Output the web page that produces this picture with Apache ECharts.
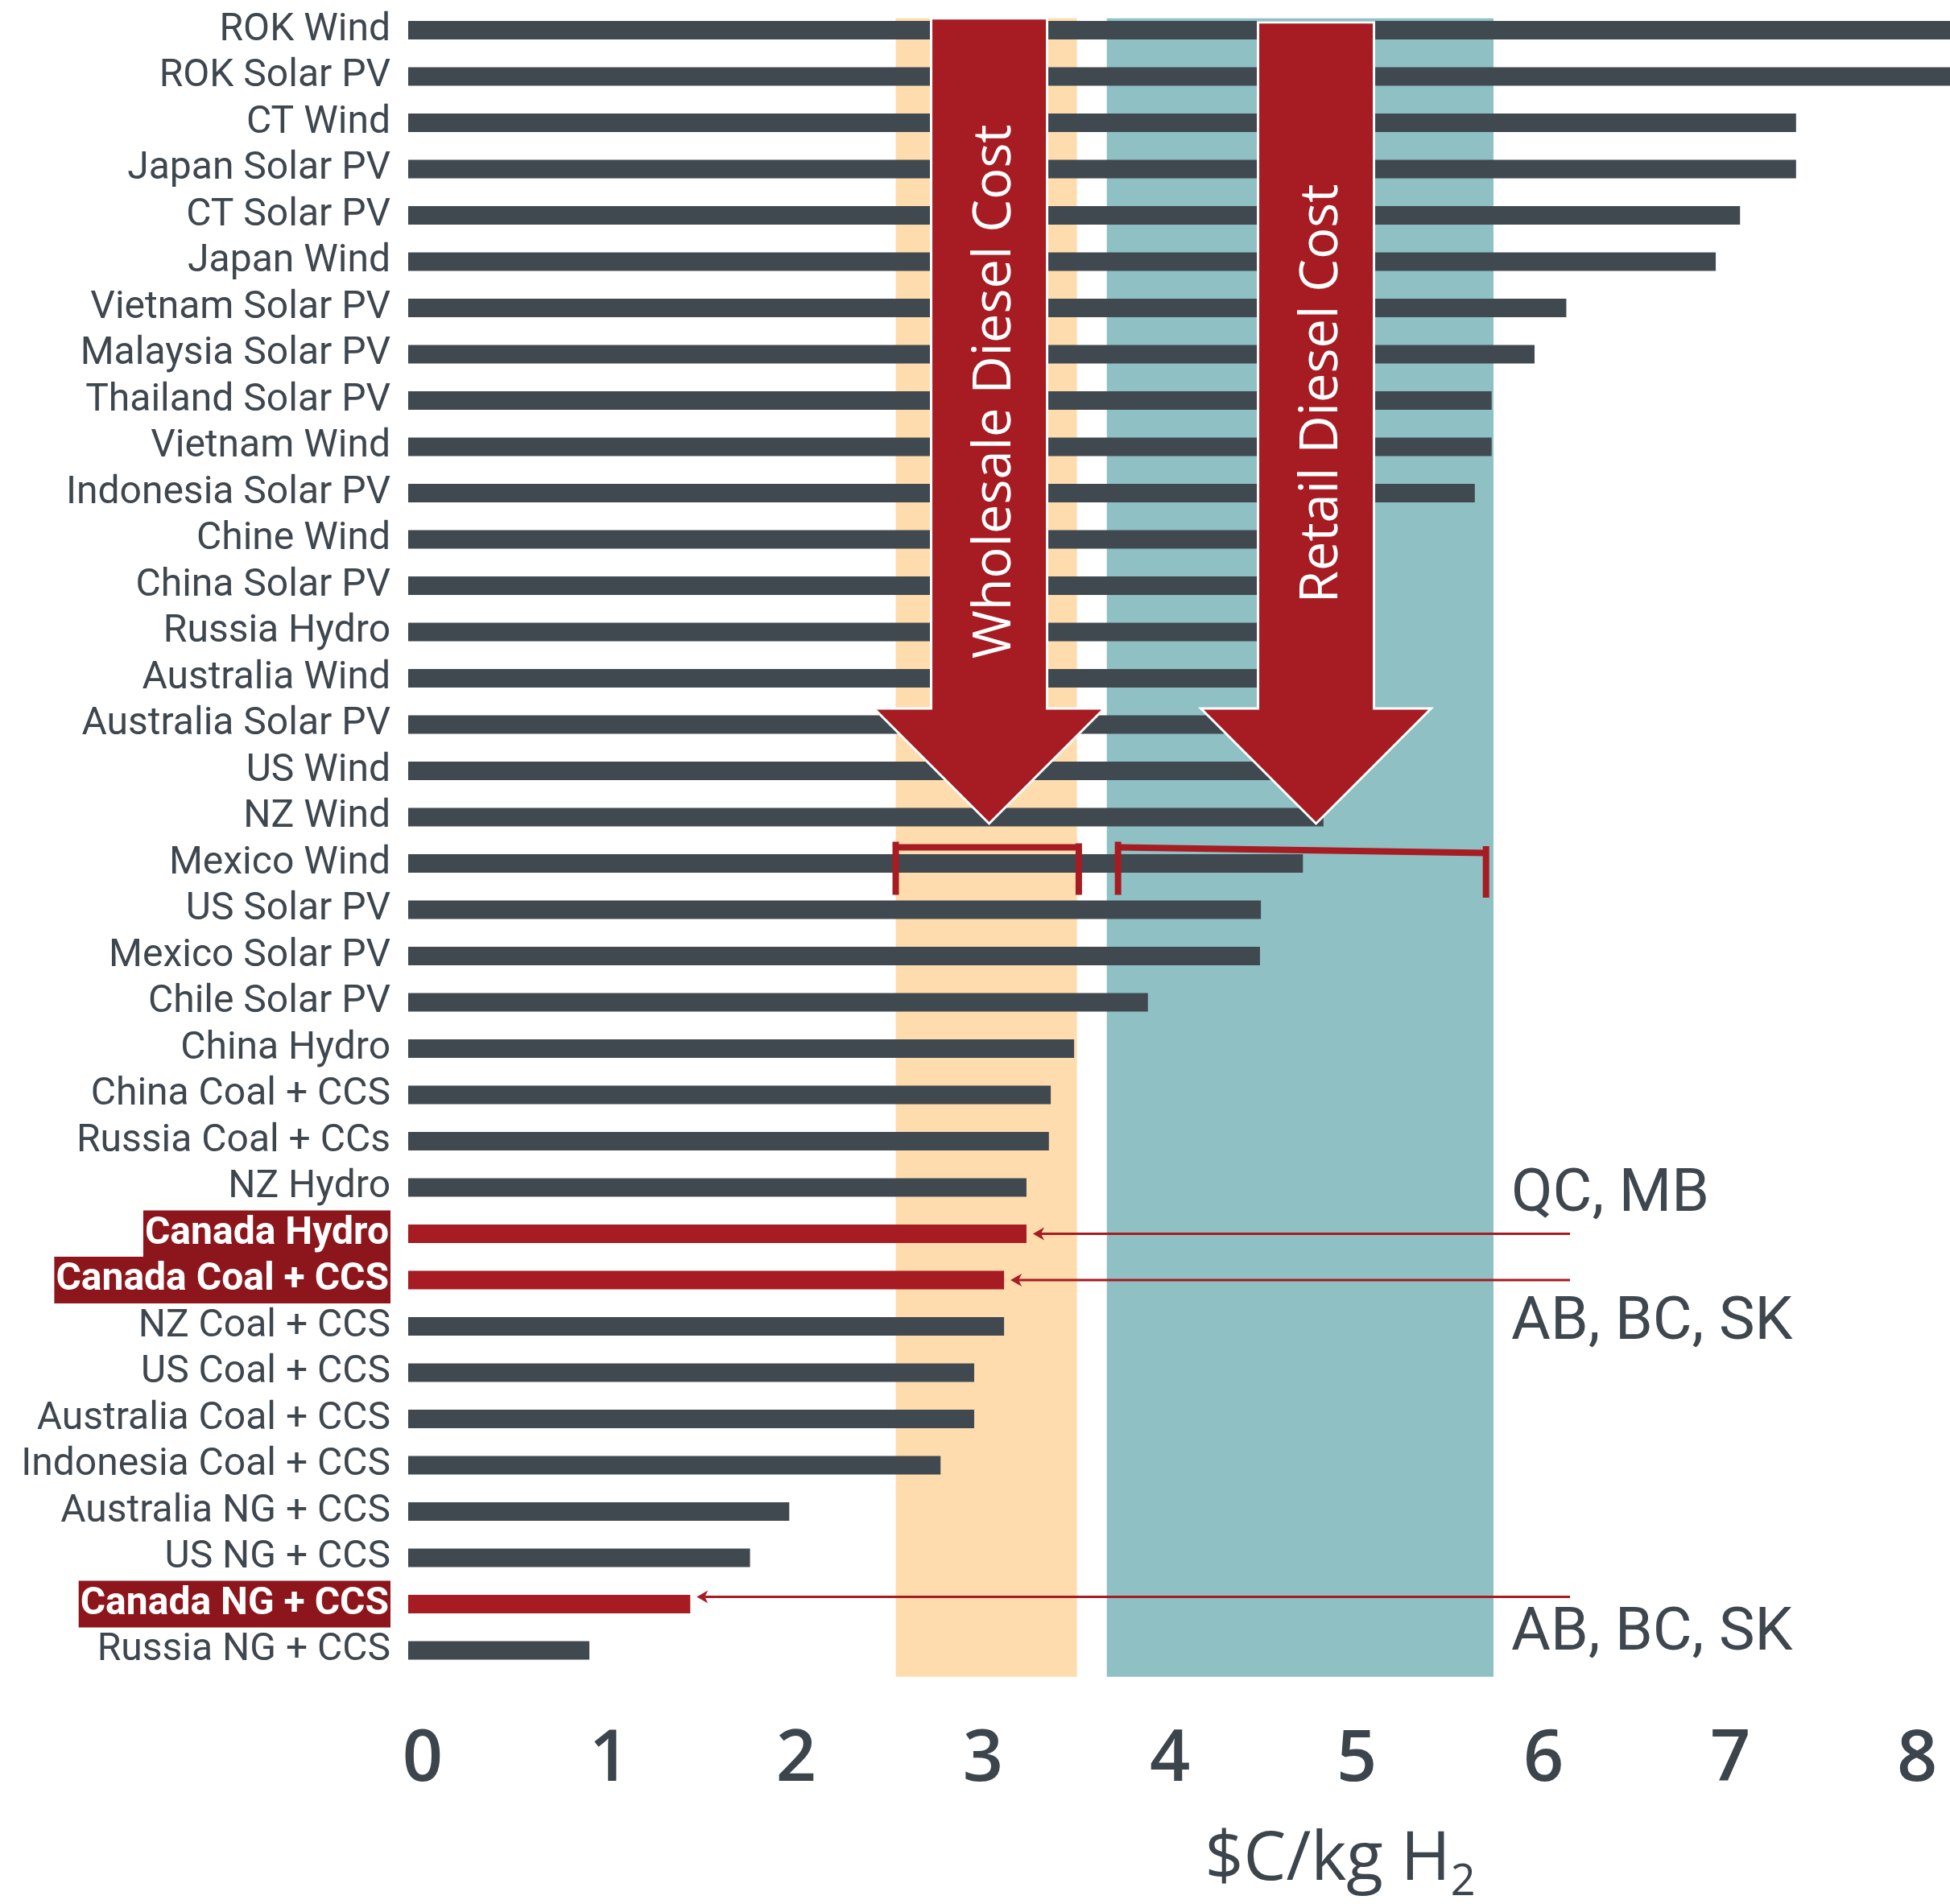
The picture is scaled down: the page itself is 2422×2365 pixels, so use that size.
<!DOCTYPE html>
<html>
<head>
<meta charset="utf-8">
<script src="https://cdn.jsdelivr.net/npm/echarts@6/dist/echarts.min.js"></script>
<style>
  html, body { margin: 0; padding: 0; background: #fff; }
  #chart { width: 2422px; height: 2365px; }
</style>
</head>
<body>
<div id="chart"></div>
<script>
// categories, top to bottom
const categories = [
  "ROK Wind", "ROK Solar PV", "CT Wind", "Japan Solar PV", "CT Solar PV", "Japan Wind",
  "Vietnam Solar PV", "Malaysia Solar PV", "Thailand Solar PV", "Vietnam Wind",
  "Indonesia Solar PV", "Chine Wind", "China Solar PV", "Russia Hydro", "Australia Wind",
  "Australia Solar PV", "US Wind", "NZ Wind", "Mexico Wind", "US Solar PV",
  "Mexico Solar PV", "Chile Solar PV", "China Hydro", "China Coal + CCS",
  "Russia Coal + CCs", "NZ Hydro", "Canada Hydro", "Canada Coal + CCS", "NZ Coal + CCS",
  "US Coal + CCS", "Australia Coal + CCS", "Indonesia Coal + CCS", "Australia NG + CCS",
  "US NG + CCS", "Canada NG + CCS", "Russia NG + CCS"
];

// hydrogen cost, $C/kg H2
const costs = [
  8.6, 8.5, 7.43, 7.43, 7.13, 7.0,
  6.2, 6.03, 5.8, 5.8,
  5.71, 5.15, 5.1, 5.05, 5.0,
  4.97, 4.93, 4.9, 4.79, 4.565,
  4.56, 3.96, 3.565, 3.44,
  3.43, 3.31, 3.31, 3.19, 3.19,
  3.03, 3.03, 2.85, 2.04,
  1.83, 1.51, 0.97
];

const highlighted = ["Canada Hydro", "Canada Coal + CCS", "Canada NG + CCS"];

// diesel cost ranges
const wholesaleRange = [2.61, 3.59];
const retailRange = [3.80, 5.77];
const wholesaleBand = [2.61, 3.58];
const retailBand = [3.74, 5.81];
const arrowNames = ["Wholesale Diesel Cost", "Retail Diesel Cost"];
const arrowTargets = [3.11, 4.86];

// province notes
const noteCategories = ["Canada Hydro", "Canada Coal + CCS", "Canada NG + CCS"];
const noteTexts = ["QC, MB", "AB, BC, SK", "AB, BC, SK"];
const noteLineEnd = 6.22;
const noteTextStart = 5.905;

const xTicks = [0, 1, 2, 3, 4, 5, 6, 7, 8];

// styling
const DARK = "#414950";
const RED = "#a61c22";
const TEXT = "#3e464e";
const noteTextDy = [-47, 54, 38];
const noteLineDy = [0, 0, -9];

const chart = echarts.init(document.getElementById("chart"));

const arrowIndex = categories.indexOf("NZ Wind");
const errIndex = categories.indexOf("Mexico Wind");

chart.setOption({
  animation: false,
  backgroundColor: "#fff",
  grid: { left: 507, right: 0, top: 8.75, bottom: 286.25, containLabel: false, outerBoundsMode: "none" },
  xAxis: {
    type: "value",
    min: xTicks[0],
    max: 8.254,
    interval: 1,
    splitLine: { show: false },
    axisLine: { show: false },
    axisTick: { show: false },
    axisLabel: {
      margin: 64,
      fontSize: 88,
      fontFamily: "Open Sans",
      fontWeight: 600,
      color: "#3c444c",
      lineHeight: 88,
      padding: [0, 0, 0, 36],
      formatter: (v) => (xTicks.includes(v) ? String(v) : "")
    },
    name: "$C/kg H{sub|2}",
    nameLocation: "middle",
    nameGap: 177,
    nameTextStyle: {
      fontSize: 84,
      fontFamily: "Open Sans",
      color: "#3c444c",
      lineHeight: 110,
      padding: [0, 0, 0, 400],
      rich: {
        sub: { fontSize: 54, fontFamily: "Open Sans", color: "#3c444c", lineHeight: 40, verticalAlign: "bottom" }
      }
    }
  },
  yAxis: {
    type: "category",
    data: categories,
    inverse: true,
    axisLine: { show: false },
    axisTick: { show: false },
    axisLabel: {
      margin: 22,
      formatter: (v) => (highlighted.includes(v) ? "{hl|" + v + "}" : "{n|" + v + "}"),
      rich: {
        n: { fontSize: 48, fontFamily: "Roboto", color: TEXT, lineHeight: 48 },
        hl: {
          fontSize: 48, fontFamily: "Roboto", fontWeight: "bold", color: "#fff",
          lineHeight: 48, backgroundColor: "#8c161b", padding: [5, 2, 5, 2]
        }
      }
    }
  },
  series: [
    {
      // shaded diesel bands
      type: "custom",
      z: 1,
      silent: true,
      encode: { x: [0, 1], y: 2 },
      data: [[wholesaleBand[0], wholesaleBand[1], 0], [retailBand[0], retailBand[1], 0]],
      renderItem: (params, api) => {
        const cs = params.coordSys;
        const x0 = api.coord([api.value(0), 0])[0];
        const x1 = api.coord([api.value(1), 0])[0];
        const fill = params.dataIndex === 0 ? "#fedcad" : "#8ec0c4";
        return {
          type: "rect",
          shape: { x: x0, y: cs.y + 14, width: x1 - x0, height: cs.height - 10 },
          style: { fill: fill }
        };
      }
    },
    {
      type: "bar",
      z: 2,
      data: costs,
      barWidth: 23,
      clip: true,
      itemStyle: {
        color: (p) => (highlighted.includes(p.name) ? RED : DARK)
      }
    },
    {
      // range bars for diesel costs
      type: "custom",
      z: 3,
      silent: true,
      encode: { x: [0, 1], y: 2 },
      data: [[wholesaleRange[0], wholesaleRange[1], errIndex], [retailRange[0], retailRange[1], errIndex]],
      renderItem: (params, api) => {
        const [x0, yc] = api.coord([api.value(0), api.value(2)]);
        const x1 = api.coord([api.value(1), api.value(2)])[0];
        const ly = yc - 20;
        const tilt = params.dataIndex === 1 ? 7 : 0;
        const st = { fill: RED };
        return {
          type: "group",
          children: [
            {
              type: "polygon",
              shape: { points: [[x0, ly - 4], [x1, ly - 4 + tilt], [x1, ly + 4 + tilt], [x0, ly + 4]] },
              style: st
            },
            { type: "rect", shape: { x: x0 - 4, y: ly - 7, width: 8, height: 66 }, style: st },
            { type: "rect", shape: { x: x1 - 4, y: ly - 5 + tilt / 2, width: 8, height: 64 }, style: st }
          ]
        };
      }
    },
    {
      // big arrows
      type: "custom",
      z: 4,
      silent: true,
      encode: { x: 0, y: 1 },
      data: arrowTargets.map((v, i) => [v, arrowIndex, i]),
      renderItem: (params, api) => {
        const i = params.dataIndex;
        const [tx, ty0] = api.coord([api.value(0), api.value(1)]);
        const ty = ty0 + 8;
        const top = params.coordSys.y + 14 + i * 5;
        const sh = 72, hh = 143, hl = 143;
        const base = ty - hl;
        return {
          type: "group",
          children: [
            {
              type: "polygon",
              shape: {
                points: [
                  [tx - sh, top], [tx + sh, top], [tx + sh, base], [tx + hh, base],
                  [tx, ty], [tx - hh, base], [tx - sh, base]
                ]
              },
              style: { fill: RED, stroke: "#fff", lineWidth: 3 }
            },
            {
              type: "text",
              x: tx + 8,
              y: top + (base - top) / 2 + 35,
              rotation: Math.PI / 2,
              style: {
                text: arrowNames[i],
                fill: "#fff",
                fontSize: 65,
                fontFamily: "Open Sans",
                align: "center",
                verticalAlign: "middle"
              }
            }
          ]
        };
      }
    },
    {
      // province notes with pointer lines
      type: "custom",
      z: 5,
      silent: true,
      encode: { x: 0, y: 1 },
      data: noteCategories.map((c, i) => {
        const idx = categories.indexOf(c);
        return [costs[idx], idx, i];
      }),
      renderItem: (params, api) => {
        const i = params.dataIndex;
        const [bx, byc] = api.coord([api.value(0), api.value(1)]);
        const by = byc + noteLineDy[i];
        const ex = api.coord([noteLineEnd, api.value(1)])[0];
        const tx = api.coord([noteTextStart, api.value(1)])[0];
        const tip = bx + 8;
        return {
          type: "group",
          children: [
            { type: "line", shape: { x1: tip + 10, y1: by, x2: ex, y2: by }, style: { stroke: RED, lineWidth: 3 } },
            {
              type: "polygon",
              shape: { points: [[tip, by], [tip + 14, by - 8], [tip + 10, by], [tip + 14, by + 8]] },
              style: { fill: RED }
            },
            {
              type: "text",
              x: tx,
              y: byc + noteTextDy[i],
              style: {
                text: noteTexts[i],
                fill: TEXT,
                fontSize: 75,
                fontFamily: "Roboto",
                align: "left",
                verticalAlign: "middle"
              }
            }
          ]
        };
      }
    }
  ]
});
</script>
</body>
</html>
